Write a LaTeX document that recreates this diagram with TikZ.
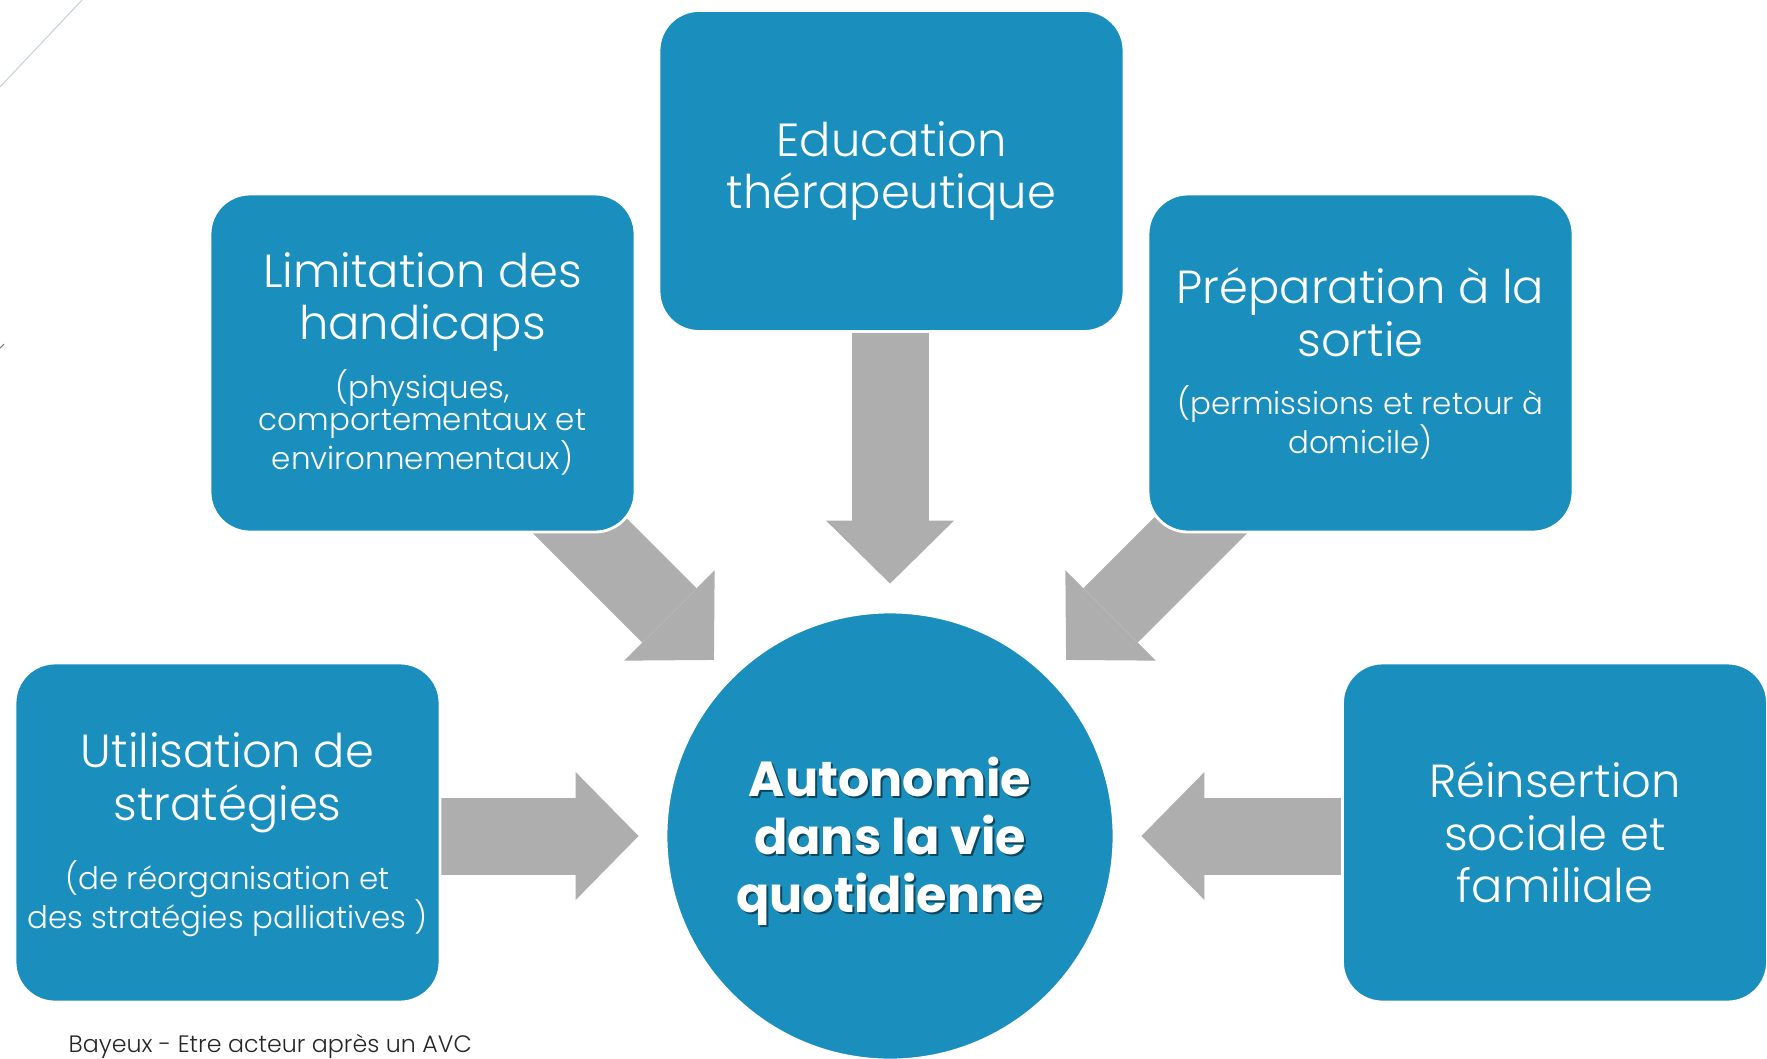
\documentclass[tikz,border=0pt]{standalone}
\usepackage{fontspec}
\setmainfont{Poppins}[UprightFont=* Light, BoldFont=* Bold]
\usetikzlibrary{positioning,arrows.meta,backgrounds,calc}

\definecolor{boxblue}{HTML}{1A8EBC}
\definecolor{arrowgray}{HTML}{AEAEAE}
\definecolor{decoline}{HTML}{C5D3DB}

\newcommand\stack[1]{\begin{tabular}{@{}c@{}}#1\end{tabular}}
% title and the small lines under it
\newcommand\boxtext[3][4pt]{\raisebox{-1pt}[\height][\depth]{\fontsize{13.2}{15}\selectfont\stack{#2}}\\[#1]
  {\fontsize{8.8}{9.2}\selectfont\stack{#3}}}
% white text with a dark shadow
\newcommand\shadowed[1]{\raisebox{-2.2pt}[\height][\depth]{%
  \rlap{\kern0.55pt\raisebox{-0.55pt}{\color{boxblue!50!black}\stack{#1}}}\stack{#1}}}

\tikzset{
    box/.style={rectangle,rounded corners=0.4cm,fill=boxblue,draw=white,line width=0.8pt,
      text=white,align=center,minimum width=4.25cm,minimum height=3.38cm,
      inner sep=0.05cm,font=\fontsize{13.2}{15}\selectfont},
    blockarr/.style={draw=arrowgray,line width=0.77cm,
      -{Triangle[length=0.63cm,width=1.28cm,line width=0pt,fill=arrowgray]}}
}

\begin{document}
\begin{tikzpicture}

    \useasboundingbox (0,0) rectangle (17.67,10.58);

    \draw[decoline,line width=0.3pt] (0,9.71) -- (0.82,10.58);
    \draw[decoline!60!black,line width=0.3pt] (0,7.10) -- (0.04,7.14);

    \node(edu) [box,minimum width=4.65cm,minimum height=3.21cm] at (8.915,8.87) {
      Education\\thérapeutique
    };

    \node(lim) [box] at (4.225,6.95) {
      \boxtext{Limitation des\\handicaps}{(physiques,\\comportementaux et\\environnementaux)}
    };

    \node(prep) [box] at (13.605,6.95) {
      \boxtext{Préparation à la\\sortie}{(permissions et retour à\\domicile)}
    };

    \node(util) [box,minimum height=3.39cm] at (2.275,2.255) {
      \boxtext[7pt]{Utilisation de\\stratégies}{(de réorganisation et\\des stratégies palliatives )}
    };

    \node(rein) [box,minimum height=3.39cm] at (15.55,2.255) {
      Réinsertion\\sociale et\\familiale
    };

    \node(auto) [circle,fill=boxblue,draw=white,line width=0.8pt,minimum size=4.48cm,
      text=white,font=\bfseries\fontsize{14}{16.5}\selectfont] at (8.90,2.22) {
      \shadowed{Autonomie\\dans la vie\\quotidienne}
    };

    \node(footer) [anchor=base west,inner sep=0,text=black!85,
      font=\fontsize{6.75}{8}\selectfont] at (0.68,0.06) {Bayeux - Etre acteur après un AVC};

    \coordinate (edutip) at ([yshift=0.27cm]auto.north);
    \coordinate (utiltip) at ([xshift=-0.26cm]auto.west);
    \coordinate (reintip) at ([xshift=0.26cm]auto.east);
    \coordinate (limtip) at ([shift={(135:2.49)}]auto.center);
    \coordinate (limtail) at ([shift={(135:3)}]limtip);
    \coordinate (preptip) at ([shift={(45:2.49)}]auto.center);
    \coordinate (preptail) at ([shift={(45:3)}]preptip);

    \begin{scope}[on background layer]
      \draw[blockarr] (edutip |- edu.south) -- (edutip);
      \draw[blockarr] (util.east |- utiltip) -- (utiltip);
      \draw[blockarr] (rein.west |- reintip) -- (reintip);
      \draw[blockarr] (limtail) -- (limtip);
      \draw[blockarr] (preptail) -- (preptip);
    \end{scope}

\end{tikzpicture}
\end{document}
